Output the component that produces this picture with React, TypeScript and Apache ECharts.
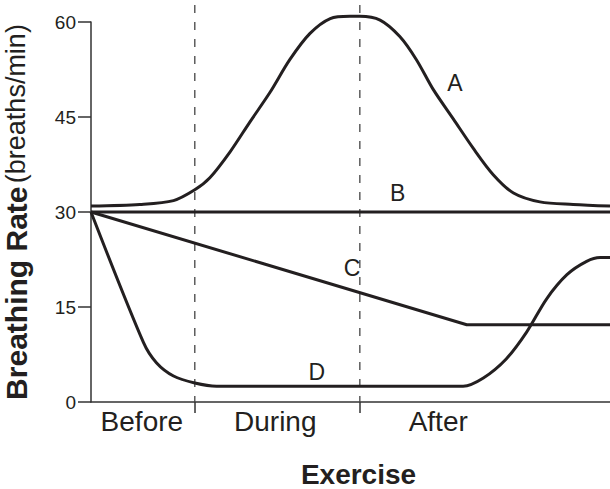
import React, { useEffect, useRef } from "react";
import * as echarts from "echarts";

// time axis (arbitrary minutes), breathing rate in breaths/min
const curveA: [number, number][] = [
  [0, 30.95], [9.4, 31.2], [15.9, 31.8], [20, 33.5], [22.9, 35.4], [26.8, 39.5],
  [30.6, 44.2], [34.5, 48.9], [38.3, 54.05], [42.2, 58.2], [46.1, 60.55], [49.9, 60.9],
  [51.8, 60.9], [55.7, 60.3], [59.5, 57.7], [62.7, 54.05], [65.9, 49.4], [69.8, 44.7],
  [73.7, 40.0], [77.5, 35.9], [81.4, 33.0], [86.5, 31.6], [92.9, 31.2], [100, 30.95],
];
const curveB: [number, number][] = [[0, 30], [100, 30]];
const curveC: [number, number][] = [[0, 30], [72.4, 12.2], [100, 12.2]];
const curveD: [number, number][] = [
  [0, 30], [10.1, 9.4], [12.6, 6.2], [15.9, 4.1], [20, 3.0], [24.2, 2.5],
  [71.7, 2.5], [75.6, 3.8], [80.0, 6.8], [83.9, 11.0], [87.8, 16.3], [91.7, 20.1],
  [95.5, 22.2], [98.1, 22.8], [100, 22.8],
];
const curveNames = ["A", "B", "C", "D"];
const labelPos: [number, number][] = [[70.1, 50.3], [59.1, 33.0], [50.3, 21.1], [43.5, 4.8]];

const phaseNames = ["Before", "During", "After"];
const phaseLabelAt = [9.8, 35.5, 66.9];
const phaseBoundaries = [20, 51.8];
const yTicks = [0, 15, 30, 45, 60];

const INK = "#231f20";
const FONT = "'Liberation Sans', Arial, Helvetica, sans-serif";

export default function App() {
  const ref = useRef<HTMLDivElement>(null);
  useEffect(() => {
    if (!ref.current) return;
    const chart = echarts.init(ref.current, undefined, { renderer: "svg" });
    const curves = [curveA, curveB, curveC, curveD];
    const series = curves.map((data, i) => ({
      type: "line",
      name: curveNames[i],
      data,
      showSymbol: false,
      symbol: "none",
      smooth: i === 0 || i === 3 ? 0.3 : false,
      clip: false,
      lineStyle: { color: INK, width: 3 },
      z: 3,
      markPoint: {
        symbol: "circle",
        symbolSize: 1,
        itemStyle: { color: "rgba(0,0,0,0)" },
        label: {
          show: true,
          position: "inside",
          formatter: curveNames[i],
          fontSize: 23,
          fontFamily: FONT,
          color: INK,
        },
        data: [{ coord: labelPos[i] }],
      },
    }));
    chart.setOption({
      animation: false,
      backgroundColor: "#ffffff",
      textStyle: { fontFamily: FONT },
      grid: { left: 91, right: 0, top: 22, bottom: 87, containLabel: false, outerBoundsMode: "none" },
      xAxis: {
        type: "value",
        min: 0,
        max: 100,
        splitLine: { show: false },
        axisLine: { show: true, lineStyle: { color: "#333", width: 1.5 } },
        axisTick: {
          show: true,
          length: 11,
          customValues: phaseBoundaries,
          lineStyle: { color: "#333", width: 1.5 },
        },
        axisLabel: {
          show: true,
          customValues: phaseLabelAt,
          formatter: (v: number) => {
            const idx = phaseLabelAt.findIndex((p) => Math.abs(p - v) < 1e-6);
            return idx >= 0 ? phaseNames[idx] : "";
          },
          fontSize: 28,
          fontFamily: FONT,
          color: INK,
          margin: 5,
        },
        name: "Exercise",
        nameLocation: "middle",
        nameGap: 58,
        nameTextStyle: {
          fontSize: 28,
          fontWeight: "bold",
          fontFamily: FONT,
          color: INK,
          padding: [0, 0, 0, 16],
        },
      },
      yAxis: {
        type: "value",
        min: 0,
        max: 60,
        interval: 15,
        splitLine: { show: false },
        axisLine: { show: true, lineStyle: { color: "#333", width: 1.5 } },
        axisTick: { show: true, length: 13, lineStyle: { color: "#333", width: 1.5 } },
        axisLabel: {
          fontSize: 19,
          fontFamily: FONT,
          color: INK,
          margin: 15,
          formatter: (v: number) => (yTicks.includes(v) ? String(v) : ""),
        },
        name: "{b|Breathing Rate} {r|(breaths/min)}",
        nameLocation: "middle",
        nameRotate: 90,
        nameGap: 50,
        nameTextStyle: {
          color: INK,
          padding: [0, 0, 10, 0],
          rich: {
            b: { fontSize: 30, fontWeight: "bold", fontFamily: FONT, color: INK },
            r: { fontSize: 27, fontFamily: FONT, color: INK },
          },
        },
      },
      series,
    });
    const y0 = chart.convertToPixel({ yAxisIndex: 0 }, 0) as number;
    chart.setOption({
      graphic: phaseBoundaries.map((b) => {
        const x = chart.convertToPixel({ xAxisIndex: 0 }, b) as number;
        return {
          type: "line",
          z: 1,
          shape: { x1: x, y1: 5, x2: x, y2: y0 },
          style: { stroke: "#444", lineWidth: 1.3, lineDash: [8, 9] },
        };
      }),
    });
    return () => chart.dispose();
  }, []);
  return <div ref={ref} style={{ width: 610, height: 489, position: "fixed", left: 0, top: 0 }} />;
}
